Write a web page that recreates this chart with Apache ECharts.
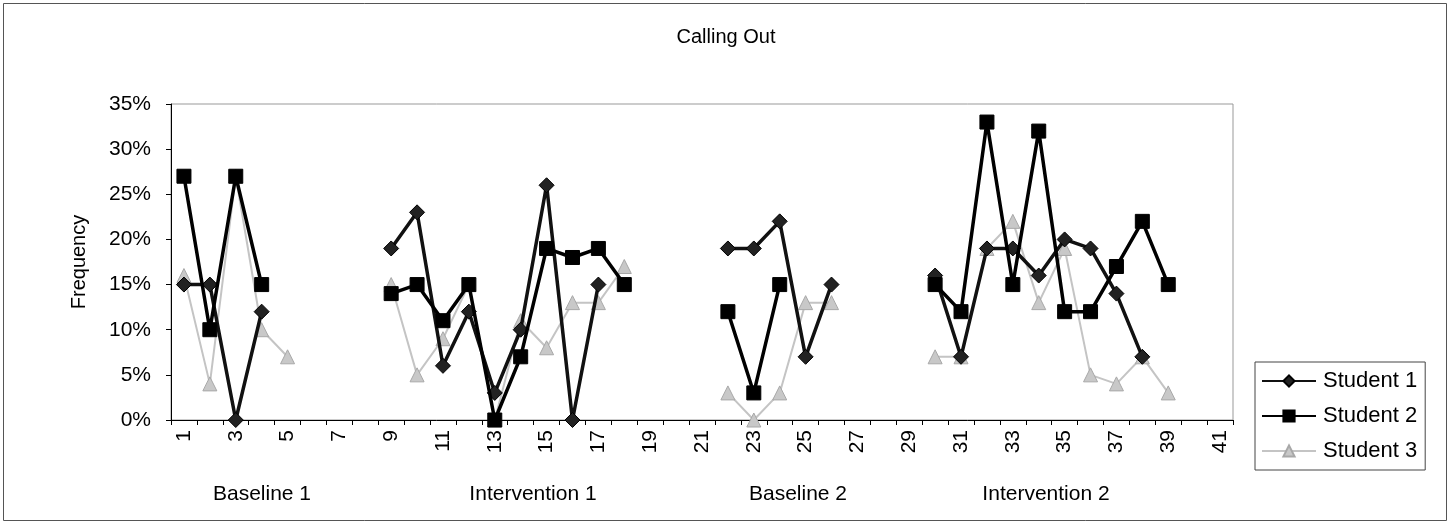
<!DOCTYPE html>
<html>
<head>
<meta charset="utf-8">
<style>
  html, body { margin: 0; padding: 0; background: #fff; }
  #chart { width: 1452px; height: 525px; }
</style>
<script src="https://cdn.jsdelivr.net/npm/echarts@6/dist/echarts.min.js"></script>
</head>
<body>
<div id="chart"></div>
<script>
  // sessions 1..41
  var sessions = ['1','2','3','4','5','6','7','8','9','10','11','12','13','14','15','16','17','18','19','20',
    '21','22','23','24','25','26','27','28','29','30','31','32','33','34','35','36','37','38','39','40','41'];

  // frequency in percent, null = no observation
  var student1 = [15, 15, 0, 12, null, null, null, null,
    19, 23, 6, 12, 3, 10, 26, 0, 15, null, null, null, null,
    19, 19, 22, 7, 15, null, null, null,
    16, 7, 19, 19, 16, 20, 19, 14, 7, null, null, null];
  var student2 = [27, 10, 27, 15, null, null, null, null,
    14, 15, 11, 15, 0, 7, 19, 18, 19, 15, null, null, null,
    12, 3, 15, null, null, null, null, null,
    15, 12, 33, 15, 32, 12, 12, 17, 22, 15, null, null];
  var student3 = [16, 4, 27, 10, 7, null, null, null,
    15, 5, 9, 15, 0, 11, 8, 13, 13, 17, null, null, null,
    3, 0, 3, 13, 13, null, null, null,
    7, 7, 19, 22, 13, 19, 5, 4, 7, 3, null, null];

  var yTicks = [0, 5, 10, 15, 20, 25, 30, 35];
  var phases = ['Baseline 1', 'Intervention 1', 'Baseline 2', 'Intervention 2'];
  var phaseX = [262, 533, 798, 1046];

  var font = '"Liberation Sans", Arial, sans-serif';

  var chart = echarts.init(document.getElementById('chart'));
  chart.setOption({
    animation: false,
    backgroundColor: '#fff',
    textStyle: { fontFamily: font, color: '#000' },
    // 标题
    title: {
      text: 'Calling Out',
      left: 'center',
      top: 22,
      textStyle: { fontSize: 20, fontWeight: 'normal', color: '#000', fontFamily: font }
    },
    // 图例
    legend: {
      orient: 'vertical',
      left: 1255,
      top: 362,
      width: 188,
      padding: [8, 8, 8, 6],
      itemGap: 13,
      itemWidth: 54,
      itemHeight: 14,
      borderColor: '#444',
      borderWidth: 1,
      textStyle: { fontSize: 22, color: '#000', fontFamily: font, padding: [0, 0, 0, 2] },
      data: ['Student 1', 'Student 2', 'Student 3']
    },
    grid: {
      left: 171,
      right: 219,
      top: 104,
      bottom: 105,
      show: true,
      borderColor: '#999',
      borderWidth: 1,
      containLabel: false
    },
    // X轴
    xAxis: {
      type: 'category',
      data: sessions,
      boundaryGap: true,
      axisLine: { show: true, lineStyle: { color: '#000', width: 1 } },
      axisTick: { show: true, interval: 0, length: 5, lineStyle: { color: '#000' } },
      axisLabel: {
        interval: 1,
        rotate: 90,
        margin: 10,
        fontSize: 21,
        color: '#000',
        fontFamily: font
      },
      splitLine: { show: false }
    },
    // Y轴
    yAxis: {
      type: 'value',
      min: yTicks[0],
      max: yTicks[yTicks.length - 1],
      interval: 5,
      name: 'Frequency',
      nameLocation: 'middle',
      nameRotate: 90,
      nameGap: 82,
      nameTextStyle: { fontSize: 20, color: '#000', fontFamily: font },
      axisLine: { show: true, lineStyle: { color: '#000', width: 1 } },
      axisTick: { show: true, length: 5, lineStyle: { color: '#000' } },
      axisLabel: {
        formatter: '{value}%',
        fontSize: 21,
        margin: 20,
        color: '#000',
        fontFamily: font
      },
      splitLine: { show: false }
    },
    graphic: [
      {
        type: 'rect',
        shape: { x: 3.5, y: 3.5, width: 1443, height: 517 },
        style: { fill: null, stroke: '#555', lineWidth: 1 },
        silent: true
      }
    ].concat(phases.map(function (p, i) {
      return {
        type: 'text',
        x: phaseX[i],
        y: 494,
        style: {
          text: p,
          fontSize: 21,
          fontFamily: font,
          fill: '#000',
          textAlign: 'center',
          textVerticalAlign: 'middle'
        },
        silent: true
      };
    })),
    series: [
      {
        name: 'Student 1',
        type: 'line',
        data: student1,
        connectNulls: false,
        symbol: 'diamond',
        symbolSize: 15,
        lineStyle: { color: '#111', width: 3.5 },
        itemStyle: { color: '#222', borderColor: '#000', borderWidth: 1 },
        z: 3
      },
      {
        name: 'Student 2',
        type: 'line',
        data: student2,
        connectNulls: false,
        symbol: 'rect',
        symbolSize: 14,
        lineStyle: { color: '#000', width: 3.5 },
        itemStyle: { color: '#000', borderColor: '#000', borderWidth: 1 },
        z: 4
      },
      {
        name: 'Student 3',
        type: 'line',
        data: student3,
        connectNulls: false,
        symbol: 'triangle',
        symbolSize: 14,
        lineStyle: { color: '#c4c4c4', width: 2 },
        itemStyle: { color: '#c8c8c8', borderColor: '#a8a8a8', borderWidth: 1 },
        z: 2
      }
    ]
  });
</script>
</body>
</html>
